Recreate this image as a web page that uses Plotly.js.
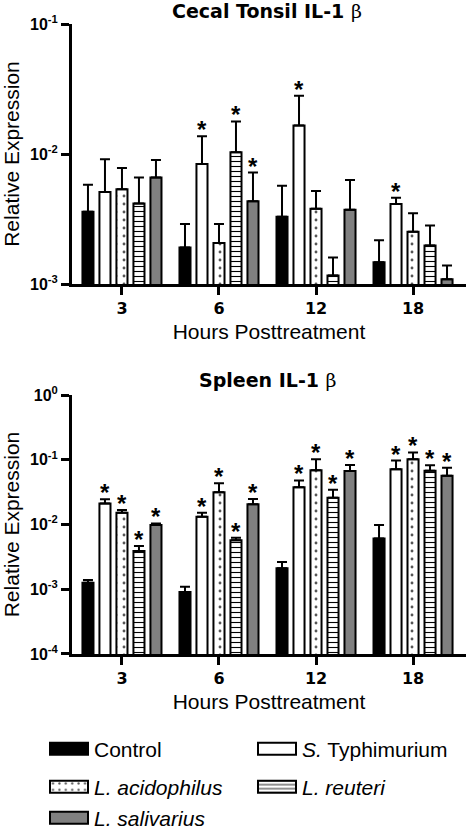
<!DOCTYPE html>
<html>
<head>
<meta charset="utf-8">
<script src="https://cdn.plot.ly/plotly-3.0.1.min.js"></script>
<style>
html,body{margin:0;padding:0;background:#fff;}
#chart{width:466px;height:833px;}
</style>
</head>
<body>
<div id="chart"></div>
<script>
// ---------- data ----------
const hours = ["3", "6", "12", "18"];
const seriesNames = ["Control", "<i>S.</i> Typhimurium", "<i>L. acidophilus</i>", "<i>L. reuteri</i>", "<i>L. salivarius</i>"];

// Cecal tonsil IL-1beta : mean and upper SEM
const ctControl    = [0.0036, 0.00191, 0.00329, 0.00147];
const ctControlErr = [0.0022, 0.00099, 0.00241, 0.00070];
const ctTyph       = [0.0051, 0.00836, 0.0166, 0.00412];
const ctTyphErr    = [0.0040, 0.00534, 0.0114, 0.00048];
const ctAcid       = [0.00535, 0.00207, 0.0038, 0.00252];
const ctAcidErr    = [0.00245, 0.00083, 0.0014, 0.00098];
const ctReut       = [0.00417, 0.0103, 0.00116, 0.00198];
const ctReutErr    = [0.00243, 0.0075, 0.00044, 0.00084];
const ctSaliv      = [0.0066, 0.00433, 0.00373, 0.00109];
const ctSalivErr   = [0.0024, 0.00287, 0.00257, 0.00030];
const ctControlSig = [0, 0, 0, 0];
const ctTyphSig    = [0, 1, 1, 1];
const ctAcidSig    = [0, 0, 0, 0];
const ctReutSig    = [0, 1, 0, 0];
const ctSalivSig   = [0, 1, 0, 0];

// Spleen IL-1beta : mean and upper SEM
const spControl    = [0.00126, 0.00091, 0.00211, 0.0061];
const spControlErr = [0.00013, 0.00018, 0.00053, 0.0037];
const spTyph       = [0.0212, 0.0132, 0.0375, 0.0713];
const spTyphErr    = [0.0033, 0.0020, 0.0105, 0.0257];
const spAcid       = [0.0152, 0.0314, 0.0687, 0.1016];
const spAcidErr    = [0.0015, 0.0119, 0.0329, 0.0284];
const spReut       = [0.0039, 0.0057, 0.026, 0.0678];
const spReutErr    = [0.00076, 0.00055, 0.0084, 0.0142];
const spSaliv      = [0.0098, 0.0205, 0.067, 0.0568];
const spSalivErr   = [0.0006, 0.0043, 0.016, 0.0182];
const spControlSig = [0, 0, 0, 0];
const spTyphSig    = [1, 1, 1, 1];
const spAcidSig    = [1, 1, 1, 1];
const spReutSig    = [1, 1, 1, 1];
const spSalivSig   = [1, 1, 1, 1];

const ctTickVals = [0.001, 0.01, 0.1];
const ctTickText = ["10<sup>-3</sup>", "10<sup>-2</sup>", "10<sup>-1</sup>"];
const spTickVals = [0.0001, 0.001, 0.01, 0.1, 1];
const spTickText = ["10<sup>-4</sup>", "10<sup>-3</sup>", "10<sup>-2</sup>", "10<sup>-1</sup>", "10<sup>0</sup>"];

// ---------- styling ----------
const FONT = "Liberation Sans, Arial, sans-serif";
const BOLDWIDE = "DejaVu Sans, Liberation Sans, sans-serif";
const fills = ["#000000", "#ffffff", "#ffffff", "#ffffff", "#808080"];
const patterns = [
  {shape: ""},
  {shape: ""},
  {shape: ".", size: 8, solidity: 0.1, fgcolor: "#555555", bgcolor: "#ffffff"},
  {shape: "-", size: 5, solidity: 0.22, fgcolor: "#000000", bgcolor: "#ffffff"},
  {shape: ""}
];
// one legend per entry, laid out as 2 columns x 3 rows
const legendIds = ["legend", "legend2", "legend3", "legend4", "legend5"];
const legendX = [44, 252, 44, 252, 44];
const legendY = [749, 749, 787, 787, 818];
const BARGAP = 0.124;
const SLOT = (1 - BARGAP) / 5;

const panels = [
  {xa: "x", ya: "y", means: [ctControl, ctTyph, ctAcid, ctReut, ctSaliv],
   errs: [ctControlErr, ctTyphErr, ctAcidErr, ctReutErr, ctSalivErr],
   sigs: [ctControlSig, ctTyphSig, ctAcidSig, ctReutSig, ctSalivSig], legend: true},
  {xa: "x2", ya: "y2", means: [spControl, spTyph, spAcid, spReut, spSaliv],
   errs: [spControlErr, spTyphErr, spAcidErr, spReutErr, spSalivErr],
   sigs: [spControlSig, spTyphSig, spAcidSig, spReutSig, spSalivSig], legend: false}
];

const traces = [];
const annotations = [];
panels.forEach(function (p) {
  p.means.forEach(function (vals, s) {
    traces.push({
      type: "bar",
      x: hours,
      y: vals,
      name: seriesNames[s],
      xaxis: p.xa,
      yaxis: p.ya,
      showlegend: p.legend,
      legend: legendIds[s],
      marker: {
        color: fills[s],
        line: {color: "#000000", width: 2},
        pattern: patterns[s]
      },
      error_y: {
        type: "data", symmetric: false,
        array: p.errs[s], arrayminus: vals.map(function () { return 0; }),
        color: "#000000", thickness: 2, width: 5
      },
      hoverinfo: "skip"
    });
    p.sigs[s].forEach(function (flag, i) {
      if (!flag) return;
      annotations.push({
        xref: p.xa, yref: p.ya,
        x: i + (s - 2) * SLOT,
        y: Math.log10(vals[i] + p.errs[s][i]),
        text: "*", showarrow: false,
        xanchor: "center", yanchor: "bottom", yshift: -9,
        font: {family: FONT, size: 24, color: "#000000", weight: "bold"}
      });
    });
  });
});

// panel titles
annotations.push({
  xref: "paper", yref: "paper", x: 0.495, y: 1.0206, xanchor: "center", yanchor: "middle",
  showarrow: false,
  text: "Cecal Tonsil IL-1 <span style=\"font-family:'DejaVu Serif';font-weight:normal\">β</span>",
  font: {family: BOLDWIDE, size: 19, color: "#000000", weight: "bold"}
});
annotations.push({
  xref: "paper", yref: "paper", x: 0.4975, y: 0.4357, xanchor: "center", yanchor: "middle",
  showarrow: false,
  text: "Spleen IL-1 <span style=\"font-family:'DejaVu Serif';font-weight:normal\">β</span>",
  font: {family: BOLDWIDE, size: 19, color: "#000000", weight: "bold"}
});

function xAxis(anchor) {
  return {
    anchor: anchor, type: "category", range: [-0.515, 3.546],
    showline: true, linewidth: 3, linecolor: "#000000",
    ticks: "outside", ticklen: 8, tickwidth: 3, tickcolor: "#000000",
    tickfont: {family: BOLDWIDE, size: 16, color: "#000000", weight: "bold"},
    showgrid: false, zeroline: false, fixedrange: true,
    title: {text: "Hours Posttreatment", font: {family: FONT, size: 21, color: "#000000"}, standoff: 8}
  };
}
function yAxis(anchor, domain, range, vals, text) {
  return {
    anchor: anchor, domain: domain, type: "log", range: range,
    tickvals: vals, ticktext: text,
    showline: true, linewidth: 3, linecolor: "#000000",
    ticks: "outside", ticklen: 8, tickwidth: 3, tickcolor: "#000000",
    tickfont: {family: FONT, size: 16, color: "#000000", weight: "bold"},
    showgrid: false, zeroline: false, fixedrange: true,
    title: {text: "Relative Expression", font: {family: FONT, size: 21, color: "#000000"}, standoff: 13}
  };
}

function legendBox(k) {
  return {
    orientation: "h", xref: "container", yref: "container",
    x: legendX[k] / 466, xanchor: "left", y: 1 - legendY[k] / 833, yanchor: "middle",
    font: {family: FONT, size: 21, color: "#000000"},
    itemwidth: 40,
    bgcolor: "rgba(0,0,0,0)", borderwidth: 0, traceorder: "normal",
    itemclick: false, itemdoubleclick: false
  };
}

const layout = {
  width: 466, height: 833,
  margin: {l: 72, r: 0, t: 24, b: 179, pad: 0},
  paper_bgcolor: "#ffffff", plot_bgcolor: "#ffffff",
  font: {family: FONT, color: "#000000"},
  barmode: "group", bargap: BARGAP, bargroupgap: 0.35,
  xaxis: xAxis("y"),
  yaxis: yAxis("x", [0.5873, 1], [-3, -1], ctTickVals, ctTickText),
  xaxis2: xAxis("y2"),
  yaxis2: yAxis("x2", [0, 0.4111], [-4, 0], spTickVals, spTickText),
  annotations: annotations,
  hovermode: false
};
legendIds.forEach(function (id, k) { layout[id] = legendBox(k); });

Plotly.newPlot("chart", traces, layout, {staticPlot: true, displayModeBar: false}).then(function (gd) {
  gd.querySelectorAll(".legendpoints path").forEach(function (p) {
    p.setAttribute("d", "M19,6H-19V-6H19Z");
  });
});
</script>
</body>
</html>
